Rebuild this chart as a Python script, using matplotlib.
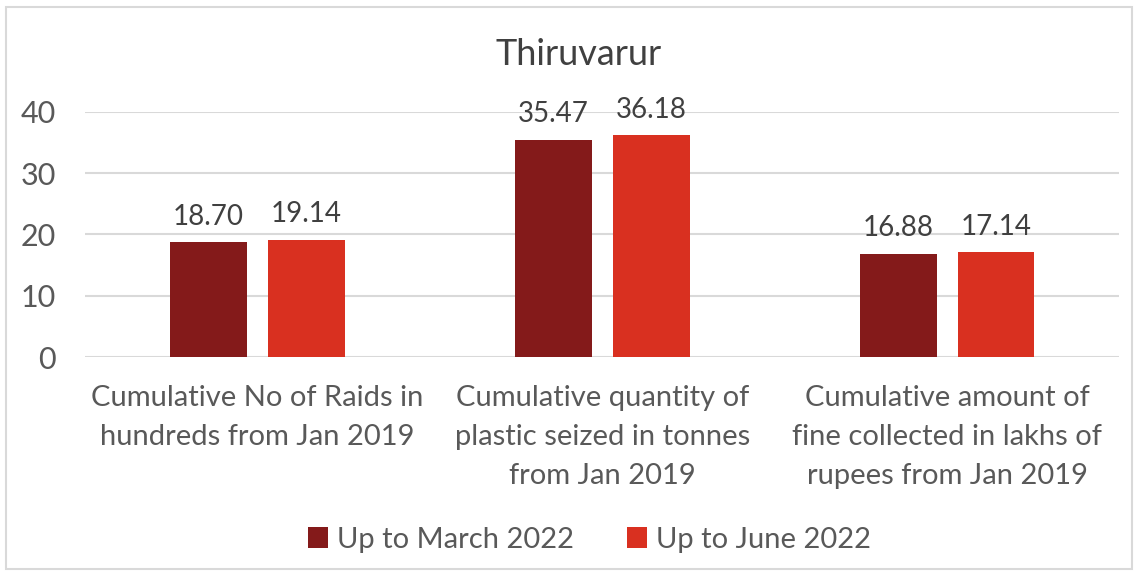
import matplotlib.pyplot as plt
import numpy as np
from matplotlib.patches import Rectangle

plt.rcParams['font.family'] = ['Lato', 'DejaVu Sans']

categories = ['Cumulative No of Raids in\nhundreds from Jan 2019',
              'Cumulative quantity of\nplastic seized in tonnes\nfrom Jan 2019',
              'Cumulative amount of\nfine collected in lakhs of\nrupees from Jan 2019']
march = [18.70, 35.47, 16.88]
june = [19.14, 36.18, 17.14]
series_names = ['Up to March 2022', 'Up to June 2022']
colors = ['#841A1A', '#D93020']
txt = '#595959'

fig = plt.figure(figsize=(11.38, 5.74), dpi=100)
ax = fig.add_axes([0.0747, 0.378, 0.909, 0.427])

x = np.arange(len(categories))
w = 0.223
off = 0.142
b1 = ax.bar(x - off, march, w, color=colors[0], label=series_names[0], zorder=3)
b2 = ax.bar(x + off, june, w, color=colors[1], label=series_names[1], zorder=3)
for bars, vals in ((b1, march), (b2, june)):
    for r, v in zip(bars, vals):
        ax.text(r.get_x() + r.get_width() / 2, v + 2.0, '%.2f' % v,
                ha='center', va='bottom', fontsize=20, color='#404040')

ax.set_xlim(-0.5, 2.5)
ax.set_ylim(0, 40)
ax.set_yticks([0, 10, 20, 30, 40])
ax.yaxis.grid(True, color='#D9D9D9', linewidth=1.5, zorder=0)
ax.set_axisbelow(True)
for s in ax.spines.values():
    s.set_visible(False)
ax.tick_params(length=0, labelsize=22, labelcolor=txt)
ax.tick_params(axis='y', pad=21)
ax.set_xticks(x)
ax.set_xticklabels(categories, fontsize=21, color=txt, linespacing=1.63)
ax.tick_params(axis='x', pad=20)

fig.text(0.508, 0.905, 'Thiruvarur', ha='center', va='center', fontsize=26, color='#404040')

fig.legend(loc='center', bbox_to_anchor=(0.518, 0.06), ncol=2, frameon=False,
           fontsize=21, labelcolor=txt, handlelength=0.7, handleheight=0.7,
           handletextpad=0.3, columnspacing=1.8)

fig.add_artist(Rectangle((0.005, 0.008), 0.99, 0.98, transform=fig.transFigure,
                         fill=False, edgecolor='#D9D9D9', linewidth=1.5))

plt.savefig('out.png', dpi=100)
